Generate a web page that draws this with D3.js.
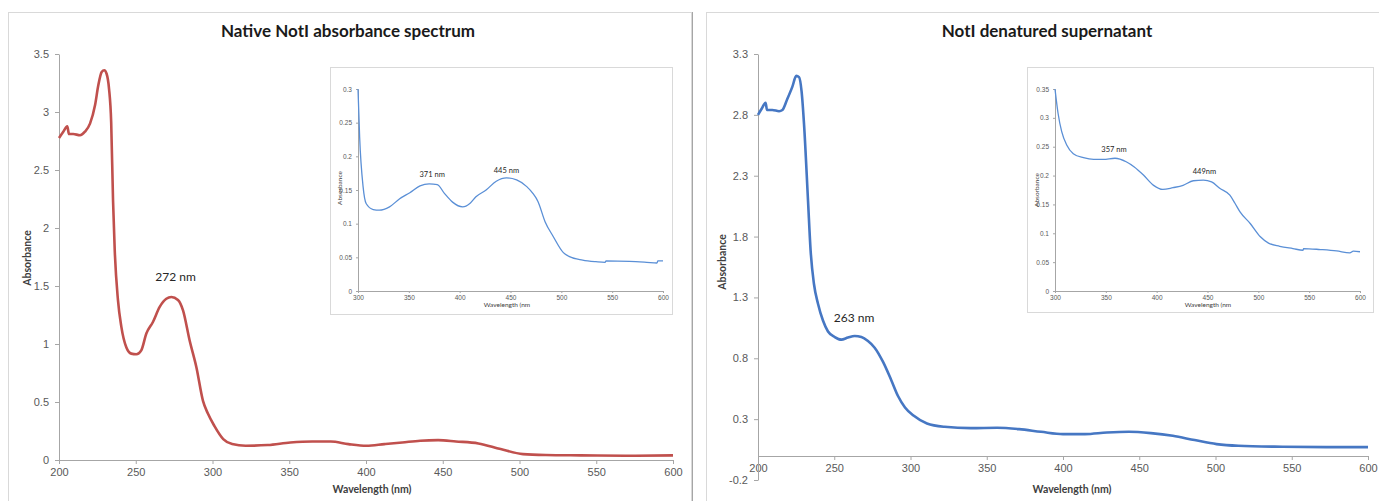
<!DOCTYPE html>
<html>
<head>
<meta charset="utf-8">
<script src="https://cdn.jsdelivr.net/npm/d3@7"></script>
<style>
  body { margin: 0; background: #fff; }
  svg { display: block; font-family: Lato, "Open Sans", sans-serif; }
  .tick text { fill: #595959; }
  .domain, .tick line { stroke: #a6a6a6; }
</style>
</head>
<body>
<div id="chart-area"></div>
<script>
// native NotI, main spectrum (nm, absorbance)
var nativeWl  = [200, 202.8, 205.4, 206.5, 209.3, 213.7, 216.9, 220.2, 223.5, 225.6, 227.8, 229.5, 231, 232.6, 234, 235.2, 236.3, 238.4, 240.6, 243.9, 247.1, 250.4, 253.6, 256.9, 261.2, 265.6, 269.9, 273.2, 277.5, 280.8, 285.1, 289.5, 293.8, 297, 301.2, 307, 312.8, 321.6, 336, 350.7, 365, 377, 388.6, 400.3, 412, 423.6, 435.3, 447, 458.6, 473.2, 487.7, 502.3, 517, 540, 569, 600];
var nativeAbs = [2.776, 2.83, 2.876, 2.81, 2.81, 2.80, 2.83, 2.90, 3.06, 3.23, 3.345, 3.36, 3.33, 3.2, 2.91, 2.24, 1.81, 1.38, 1.15, 0.97, 0.917, 0.911, 0.945, 1.09, 1.19, 1.32, 1.39, 1.405, 1.38, 1.29, 1.03, 0.80, 0.51, 0.40, 0.294, 0.18, 0.137, 0.123, 0.129, 0.151, 0.16, 0.16, 0.137, 0.123, 0.137, 0.151, 0.166, 0.171, 0.16, 0.143, 0.094, 0.051, 0.043, 0.04, 0.037, 0.04];

// native NotI, visible region inset
var nativeInsetWl  = [300, 301.6, 305, 308, 315, 321, 331, 341, 351, 361, 370, 378, 385, 393, 403, 410, 416, 426, 436, 446, 456, 466, 472, 477, 484, 492, 502, 508, 521, 534, 543, 544, 567, 584, 594, 595, 600];
var nativeInsetAbs = [0.30, 0.229, 0.155, 0.130, 0.121, 0.120, 0.125, 0.137, 0.146, 0.156, 0.159, 0.158, 0.145, 0.132, 0.125, 0.130, 0.140, 0.150, 0.163, 0.168, 0.165, 0.155, 0.145, 0.133, 0.103, 0.081, 0.057, 0.051, 0.046, 0.0436, 0.0426, 0.0446, 0.044, 0.0426, 0.0416, 0.0446, 0.0446];

// denatured supernatant, main spectrum
var denatWl  = [200, 202.4, 205, 205.9, 209.4, 213.8, 216, 219.2, 222.5, 225.1, 226.9, 228.6, 230.2, 232.8, 234.5, 236.7, 239.3, 242.6, 245.9, 250.3, 254.6, 259, 263.4, 267.8, 272.1, 276.5, 282, 287.4, 291.8, 296.4, 302.2, 310.8, 322.3, 339.6, 356.8, 371.2, 385.6, 400, 414.4, 428.8, 443.2, 457.6, 472, 486.3, 500.7, 515, 543.9, 572.7, 600];
var denatAbs = [2.80, 2.85, 2.90, 2.84, 2.84, 2.83, 2.84, 2.93, 3.03, 3.12, 3.11, 2.99, 2.72, 2.095, 1.685, 1.41, 1.25, 1.11, 1.02, 0.975, 0.953, 0.97, 0.983, 0.975, 0.942, 0.887, 0.77, 0.62, 0.49, 0.396, 0.327, 0.264, 0.237, 0.226, 0.229, 0.218, 0.196, 0.177, 0.177, 0.19, 0.196, 0.185, 0.163, 0.128, 0.095, 0.081, 0.073, 0.07, 0.07];

// denatured supernatant, inset
var denatInsetWl  = [300, 303, 306.6, 311.5, 318, 328, 338, 347.5, 359, 370, 378, 387, 397, 406, 416, 426, 436, 446, 454, 462, 472, 477, 482, 492, 502, 510, 521, 534, 544, 544.5, 561, 577, 590, 593.5, 600];
var denatInsetAbs = [0.35, 0.308, 0.276, 0.253, 0.238, 0.231, 0.228, 0.228, 0.230, 0.224, 0.215, 0.201, 0.183, 0.176, 0.179, 0.183, 0.191, 0.192, 0.189, 0.178, 0.166, 0.152, 0.137, 0.117, 0.094, 0.083, 0.0775, 0.0735, 0.0706, 0.0735, 0.0718, 0.0694, 0.066, 0.069, 0.068];

var xTicksMain  = [200, 250, 300, 350, 400, 450, 500, 550, 600];
var xTicksInset = [300, 350, 400, 450, 500, 550, 600];
var yTicksNative = [0, 0.5, 1, 1.5, 2, 2.5, 3, 3.5];
var yTicksDenat  = [-0.2, 0.3, 0.8, 1.3, 1.8, 2.3, 2.8, 3.3];
var yTicksNativeInset = [0, 0.05, 0.1, 0.15, 0.2, 0.25, 0.3];
var yTicksDenatInset  = [0, 0.05, 0.1, 0.15, 0.2, 0.25, 0.3, 0.35];

var svg = d3.select("#chart-area")
    .append("svg")
    .attr("width", 1379)
    .attr("height", 501);

// panel frames
svg.append("rect").attr("x", 8.5).attr("y", 12.5).attr("width", 683).attr("height", 500)
    .attr("fill", "none").attr("stroke", "#d9d9d9");
svg.append("line").attr("x1", 692.5).attr("x2", 692.5).attr("y1", 12).attr("y2", 501)
    .attr("stroke", "#a6a6a6");
svg.append("rect").attr("x", 706.5).attr("y", 12.5).attr("width", 690).attr("height", 500)
    .attr("fill", "none").attr("stroke", "#d9d9d9");

function plot(c) {
    var x = d3.scaleLinear().domain(c.xDomain).range([c.left, c.right]);
    var y = d3.scaleLinear().domain(c.yDomain).range([c.bottom, c.top]);
    var g = svg.append("g");

    if (c.box) {
        g.append("rect").attr("x", c.box[0] + 0.5).attr("y", c.box[1] + 0.5)
            .attr("width", c.box[2] - c.box[0]).attr("height", c.box[3] - c.box[1])
            .attr("fill", "#fff").attr("stroke", "#d9d9d9");
    }

    // x axis sits at absorbance 0 (Excel default crossing)
    var xAxis = g.append("g")
        .attr("transform", "translate(0," + Math.round(y(0)) + ")")
        .call(d3.axisBottom(x).tickValues(c.xTicks).tickSize(c.tick).tickSizeOuter(0).tickPadding(c.pad));
    xAxis.selectAll("text").style("font-size", c.fs + "px");

    var yAxis = g.append("g")
        .attr("transform", "translate(" + c.left + ",0)")
        .call(d3.axisLeft(y).tickValues(c.yTicks).tickFormat(function(d) { return String(d); })
            .tickSize(c.tick).tickSizeOuter(0).tickPadding(c.pad + 2));
    yAxis.selectAll("text").style("font-size", c.fs + "px");

    var line = d3.line()
        .x(function(d) { return x(d[0]); })
        .y(function(d) { return y(d[1]); })
        .curve(d3.curveMonotoneX);

    g.append("path")
        .datum(d3.zip(c.wl, c.abs))
        .attr("d", line)
        .attr("fill", "none")
        .attr("stroke", c.color)
        .attr("stroke-width", c.lw)
        .attr("stroke-linejoin", "round");

    // axis titles
    g.append("text")
        .attr("x", c.xLabel[0]).attr("y", c.xLabel[1])
        .attr("text-anchor", "middle")
        .style("font-size", c.lfs + "px").style("font-weight", c.inset ? "normal" : "bold")
        .attr("fill", "#404040")
        .text(c.xTitle);
    g.append("text")
        .attr("transform", "translate(" + c.yLabel[0] + "," + c.yLabel[1] + ") rotate(-90)")
        .attr("text-anchor", "middle")
        .style("font-size", c.lfs + "px").style("font-weight", c.inset ? "normal" : "bold")
        .attr("fill", "#404040")
        .text("Absorbance");

    // peak labels
    c.notes.forEach(function(n) {
        g.append("text")
            .attr("x", x(n[0]) + n[2]).attr("y", y(n[1]) + n[3])
            .attr("text-anchor", "middle")
            .style("font-size", c.nfs + "px")
            .attr("fill", "#262626")
            .text(n[4]);
    });
}

// titles
svg.append("text").attr("x", 348).attr("y", 37).attr("text-anchor", "middle")
    .style("font-size", "17px").style("font-weight", "bold").attr("fill", "#1a1a1a")
    .text("Native NotI absorbance spectrum");
svg.append("text").attr("x", 1047).attr("y", 37).attr("text-anchor", "middle")
    .style("font-size", "17px").style("font-weight", "bold").attr("fill", "#1a1a1a")
    .text("NotI denatured supernatant");

plot({
    wl: nativeWl, abs: nativeAbs, color: "#c0504d", lw: 2.6,
    xDomain: [200, 600], yDomain: [0, 3.5], left: 59, right: 673, top: 54, bottom: 460,
    xTicks: xTicksMain, yTicks: yTicksNative, tick: 4, pad: 4, fs: 11, lfs: 10.5, nfs: 12,
    xTitle: "Wavelength (nm)", xLabel: [372, 493], yLabel: [31, 258],
    notes: [[272, 1.405, 6, -16, "272 nm"]]
});
plot({
    wl: denatWl, abs: denatAbs, color: "#4677c3", lw: 2.6,
    xDomain: [200, 600], yDomain: [-0.2, 3.3], left: 758, right: 1368, top: 54, bottom: 480,
    xTicks: xTicksMain, yTicks: yTicksDenat, tick: 4, pad: 4, fs: 11, lfs: 10.5, nfs: 12,
    xTitle: "Wavelength (nm)", xLabel: [1072, 493], yLabel: [726, 262],
    notes: [[263, 0.983, 0, -14, "263 nm"]]
});
plot({
    wl: nativeInsetWl, abs: nativeInsetAbs, color: "#5a8fd6", lw: 1.3, inset: true,
    box: [330, 67, 672, 314],
    xDomain: [300, 600], yDomain: [0, 0.3], left: 358, right: 663, top: 89, bottom: 291,
    xTicks: xTicksInset, yTicks: yTicksNativeInset, tick: 2, pad: 2, fs: 6.5, lfs: 6.5, nfs: 7.5,
    xTitle: "Wavelength (nm", xLabel: [507, 307], yLabel: [342, 188],
    notes: [[371, 0.159, 2, -7, "371 nm"], [445, 0.168, 1, -5, "445 nm"]]
});
plot({
    wl: denatInsetWl, abs: denatInsetAbs, color: "#5a8fd6", lw: 1.3, inset: true,
    box: [1027, 67, 1373, 312],
    xDomain: [300, 600], yDomain: [0, 0.35], left: 1055, right: 1360, top: 89, bottom: 291,
    xTicks: xTicksInset, yTicks: yTicksDenatInset, tick: 2, pad: 2, fs: 6.5, lfs: 6.5, nfs: 7.5,
    xTitle: "Wavelength (nm", xLabel: [1208, 307], yLabel: [1039, 190],
    notes: [[357, 0.230, 1, -6, "357 nm"], [449, 0.192, -2, -6, "449nm"]]
});
</script>
</body>
</html>
